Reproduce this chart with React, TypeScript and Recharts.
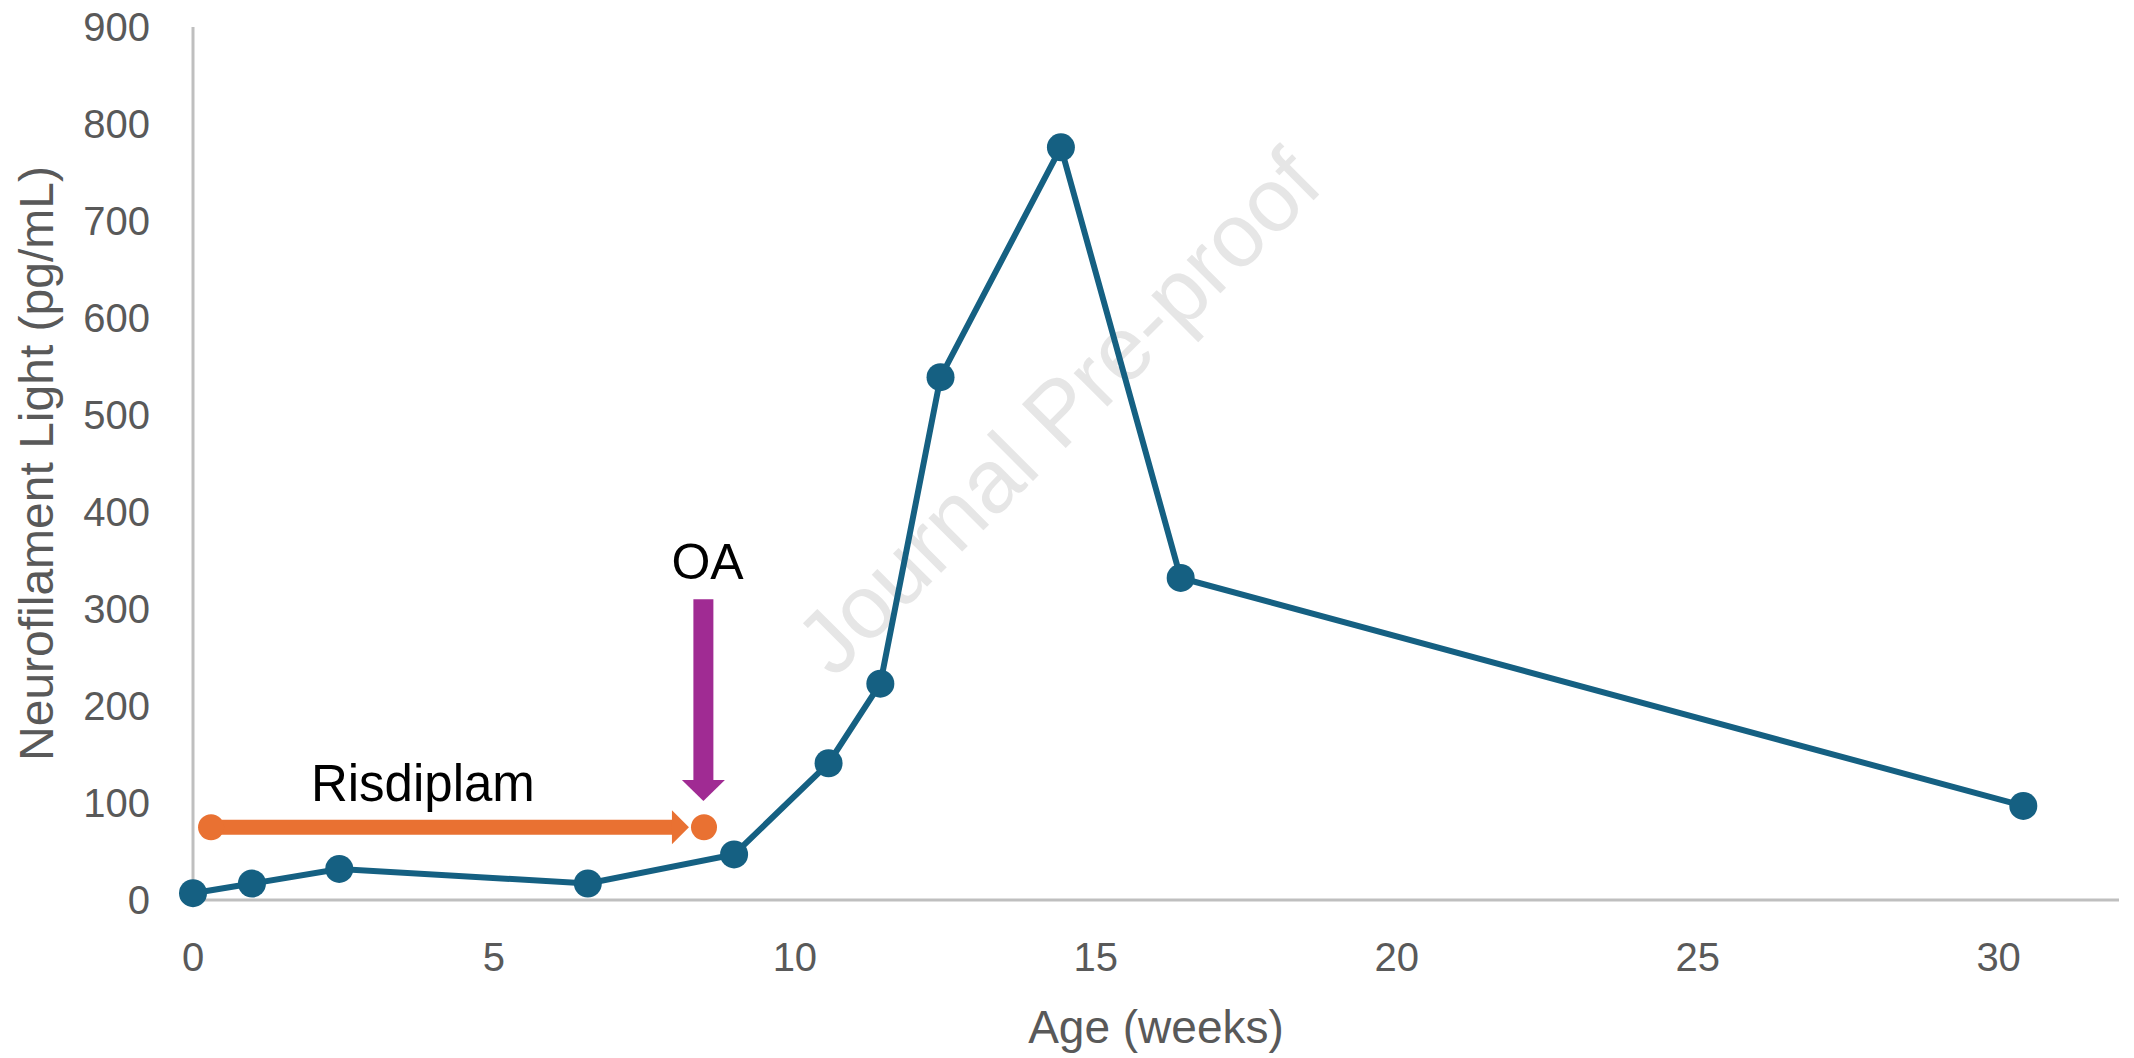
import { LineChart, Line, XAxis, YAxis, ReferenceLine, ReferenceDot, Label } from 'recharts';

const ageWeeks = [0, 0.98, 2.43, 6.56, 8.99, 10.56, 11.42, 12.42, 14.42, 16.41, 30.41];
const nflLevels = [7, 17, 32, 17, 47, 141, 223, 539, 776, 332, 97];
const xTicks = [0, 5, 10, 15, 20, 25, 30];
const yTicks = [0, 100, 200, 300, 400, 500, 600, 700, 800, 900];

// treatment markers (weeks / pg/mL)
const risdiplamStart = 0.3;
const risdiplamEnd = 8.24;
const risdiplamStop = 8.49;
const risdiplamLevel = 75;
const oaWeek = 8.48;
const oaArrowTop = 310;
const oaArrowTip = 102;

const data = ageWeeks.map((age, i) => ({ age, nfl: nflLevels[i] }));

const FONT = '"Liberation Sans", Arial, sans-serif';
const BLUE = '#156082';
const ORANGE = '#E97132';
const PURPLE = '#A02B93';
const AXIS = '#BFBFBF';
const TEXT = '#595959';

function arrowShape(color: string, width: number, headLen: number, headWidth: number) {
  return (p: any) => {
    const { x1, y1, x2, y2 } = p;
    const dx = x2 - x1;
    const dy = y2 - y1;
    const len = Math.hypot(dx, dy) || 1;
    const ux = dx / len;
    const uy = dy / len;
    const bx = x2 - ux * headLen;
    const by = y2 - uy * headLen;
    const nx = -uy;
    const ny = ux;
    const hw = headWidth / 2;
    return (
      <g>
        <line x1={x1} y1={y1} x2={bx + ux} y2={by + uy} stroke={color} strokeWidth={width} />
        <polygon
          points={`${x2},${y2} ${bx + nx * hw},${by + ny * hw} ${bx - nx * hw},${by - ny * hw}`}
          fill={color}
        />
      </g>
    );
  };
}

function textShape(text: string, size: number) {
  return (p: any) => (
    <text
      x={p.cx}
      y={p.cy}
      textAnchor="middle"
      dominantBaseline="central"
      fontSize={size}
      fontFamily={FONT}
      fill="#000"
    >
      {text}
    </text>
  );
}

export default function App() {
  return (
    <div style={{ position: 'absolute', left: 0, top: 0, width: 2134, height: 1058, background: '#fff' }}>
      <svg width={2134} height={1058} style={{ position: 'absolute', left: 0, top: 0 }}>
        <text
          x={1058}
          y={412}
          transform="rotate(-45 1058 412)"
          textAnchor="middle"
          dominantBaseline="central"
          fontSize={90}
          fontFamily={FONT}
          fill="#E6E6E6"
        >
          Journal Pre-proof
        </text>
      </svg>
      <div style={{ position: 'absolute', left: 0, top: 0 }}>
        <LineChart width={2134} height={1058} data={data} margin={{ top: 27, right: 15, bottom: 0, left: 0 }}>
          <XAxis
            dataKey="age"
            type="number"
            domain={[0, 32]}
            ticks={xTicks}
            tickLine={false}
            tickSize={0}
            tickMargin={43}
            axisLine={{ stroke: AXIS, strokeWidth: 3 }}
            tick={{ fontSize: 40, fill: TEXT, fontFamily: FONT }}
            height={158}
          >
            <Label
              value="Age (weeks)"
              position="insideBottom"
              offset={15}
              style={{ fontSize: 46, fill: TEXT, fontFamily: FONT }}
            />
          </XAxis>
          <YAxis
            type="number"
            domain={[0, 900]}
            ticks={yTicks}
            tickLine={false}
            tickSize={0}
            tickMargin={43}
            axisLine={{ stroke: AXIS, strokeWidth: 3 }}
            tick={{ fontSize: 40, fill: TEXT, fontFamily: FONT }}
            width={193}
          >
            <Label
              value="Neurofilament Light (pg/mL)"
              angle={-90}
              position="insideLeft"
              offset={36}
              style={{ fontSize: 48, fill: TEXT, fontFamily: FONT, textAnchor: 'middle' }}
            />
          </YAxis>
          <ReferenceLine
            segment={[
              { x: risdiplamStart, y: risdiplamLevel },
              { x: risdiplamEnd, y: risdiplamLevel },
            ]}
            shape={arrowShape(ORANGE, 15, 17, 34)}
          />
          <ReferenceDot x={risdiplamStart} y={risdiplamLevel} r={13} fill={ORANGE} stroke="none" />
          <ReferenceDot x={risdiplamStop} y={risdiplamLevel} r={13} fill={ORANGE} stroke="none" />
          <ReferenceDot x={3.82} y={120} r={0} shape={textShape('Risdiplam', 51)} />
          <ReferenceLine
            segment={[
              { x: oaWeek, y: oaArrowTop },
              { x: oaWeek, y: oaArrowTip },
            ]}
            shape={arrowShape(PURPLE, 20, 21, 43)}
          />
          <ReferenceDot x={8.55} y={348} r={0} shape={textShape('OA', 50)} />
          <Line
            type="linear"
            dataKey="nfl"
            stroke={BLUE}
            strokeWidth={6}
            dot={{ r: 14, fill: BLUE, stroke: 'none' }}
            activeDot={false}
            isAnimationActive={false}
          />
        </LineChart>
      </div>
    </div>
  );
}
